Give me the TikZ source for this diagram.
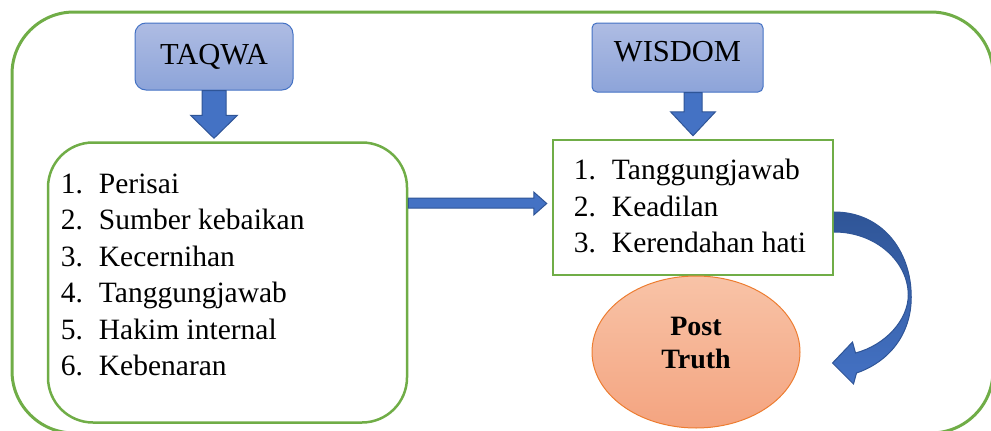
\documentclass[tikz,border=0pt]{standalone}
\usepackage{fontspec}
\setmainfont{Liberation Serif}
\usetikzlibrary{calc,shapes.geometric}
\definecolor{framegreen}{HTML}{70AD47}
\definecolor{boxtop}{HTML}{AEBCE3}
\definecolor{boxbottom}{HTML}{8DA4D9}
\definecolor{boxedge}{HTML}{4472C4}
\definecolor{arrowblue}{HTML}{4472C4}
\definecolor{arrowedge}{HTML}{2F5597}
\definecolor{peachtop}{HTML}{F8C3A7}
\definecolor{peachbottom}{HTML}{F4A480}
\definecolor{peachedge}{HTML}{ED7D31}
\tikzset{
  headbox/.style={draw=boxedge, line width=1pt, top color=boxtop, bottom color=boxbottom,
    font=\fontsize{30.5}{35}\selectfont},
  listbox/.style={draw=framegreen, line width=2.5pt},
  listtext/.style={align=left, font=\fontsize{29.5}{36.5}\selectfont, inner sep=0pt},
  blockarrow/.style={fill=arrowblue, draw=arrowedge, line width=1pt},
}
\newcommand{\nr}[1]{\makebox[38pt][l]{#1}}
\begin{document}
\begin{tikzpicture}[x=1pt,y=-1pt]
\useasboundingbox (0,0) rectangle (991,431);
% outer frame
\draw[framegreen, line width=3pt, rounded corners=62pt] (12,12) rectangle (993,433);
% the two heads
\node[headbox, rounded corners=11pt, minimum width=158pt, minimum height=67pt] (taqwa) at (214,56.5) {TAQWA};
\node[headbox, rounded corners=5pt, minimum width=171pt, minimum height=69pt, text depth=12pt] (wisdom) at (677.5,57.5) {WISDOM};
% the two lists
\node[listbox, rounded corners=45pt, minimum width=359pt, minimum height=280pt] (ciri) at (227.5,282.5) {};
\node[listbox, minimum width=280pt, minimum height=135pt] (wlist) at (693,207.5) {};
\node[listtext, anchor=north west] (ciritext) at ($(ciri.north west)+(14,32.5)$)
  {\nr{1.}Perisai\\ \nr{2.}Sumber kebaikan\\ \nr{3.}Kecernihan\\
   \nr{4.}Tanggungjawab\\ \nr{5.}Hakim internal\\ \nr{6.}Kebenaran};
\node[listtext, anchor=north west] (wisdomtext) at ($(wlist.north west)+(22,20.5)$)
  {\nr{1.}Tanggungjawab\\ \nr{2.}Keadilan\\ \nr{3.}Kerendahan hati};
% post truth
\node[ellipse, draw=peachedge, line width=1pt, top color=peachtop, bottom color=peachbottom,
  minimum width=208pt, minimum height=152pt, inner sep=0pt] (postt) at (696,352) {};
\node[align=center, font=\bfseries\fontsize{28}{33}\selectfont] (pttext) at ($(postt.center)+(0,-9)$) {Post\\Truth};
% block arrows
\filldraw[blockarrow] let \p1=(taqwa.south), \p2=(ciri.north) in
  (\x1-12pt,\y1) -- (\x1+12pt,\y1) -- (\x1+12pt,\y2+26pt) -- (\x1+23.5pt,\y2+26pt)
  -- (\x1,\y2+3pt) -- (\x1-23.5pt,\y2+26pt) -- (\x1-12pt,\y2+26pt) -- cycle;
\filldraw[blockarrow] let \p1=(wisdom.south), \p2=(wlist.north) in
  (\x2-9pt,\y1) -- (\x2+9pt,\y1) -- (\x2+9pt,\y2+27pt) -- (\x2+22.5pt,\y2+27pt)
  -- (\x2,\y2+3pt) -- (\x2-22.5pt,\y2+27pt) -- (\x2-9pt,\y2+27pt) -- cycle;
\filldraw[blockarrow] let \p1=(ciri.east), \p2=(wlist.west) in
  (\x1,\y2+9.5pt) -- (\x2-18pt,\y2+9.5pt) -- (\x2-18pt,\y2+15.5pt) -- (\x2-5pt,\y2+4pt)
  -- (\x2-18pt,\y2-7.5pt) -- (\x2-18pt,\y2-0.5pt) -- (\x1,\y2-0.5pt) -- cycle;
% curved arrow to post truth
\path[draw=arrowedge, line width=1pt, top color=arrowedge, bottom color=arrowblue]
  let \p1=(wlist.east), \p2=(postt.east) in
  (\x1,\y1-4.5pt) .. controls (\x1+47pt,\y1-4.5pt) and (\x1+77pt,\y1-42.5pt) .. (\x1+77pt,\y1-89.5pt)
  .. controls (\x1+77pt,\y1-127.5pt) and (\x2+88pt,\y2-10pt) .. (\x2+56pt,\y2-21pt)
  -- (\x2+53pt,\y2-32pt) -- (\x2+32pt,\y2-11pt) -- (\x2+52pt,\y2+10pt) -- (\x2+55pt,\y2-1pt)
  .. controls (\x2+85pt,\y2+7pt) and (\x1+74pt,\y1-112.5pt) .. (\x1+74pt,\y1-87.5pt)
  .. controls (\x1+74pt,\y1-54.5pt) and (\x1+42pt,\y1-24.5pt) .. (\x1,\y1-24.5pt) -- cycle;
\end{tikzpicture}
\end{document}
